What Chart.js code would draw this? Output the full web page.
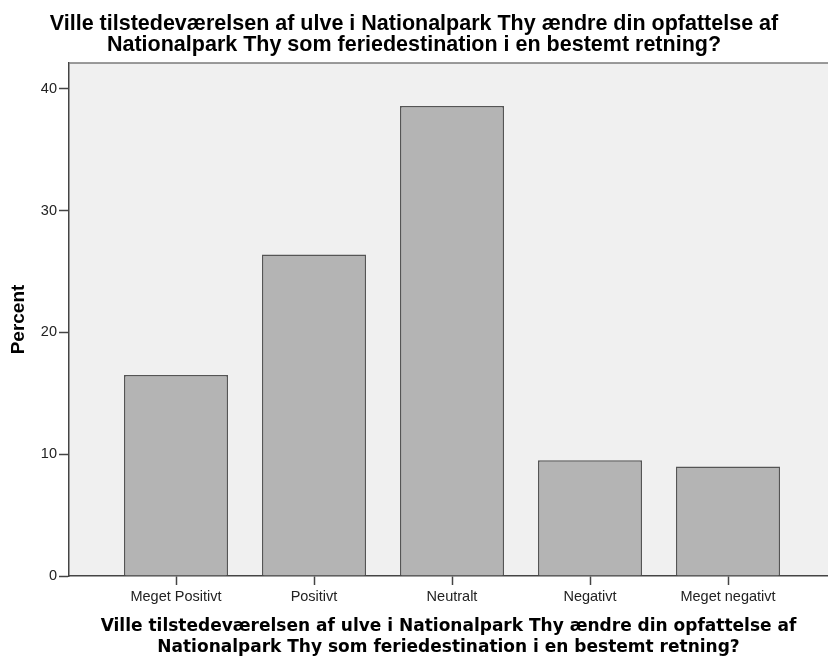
<!DOCTYPE html>
<html>
<head>
<meta charset="utf-8">
<script src="https://cdn.jsdelivr.net/npm/chart.js@4/dist/chart.umd.min.js"></script>
<style>
  html, body { margin: 0; padding: 0; background: #ffffff; }
  #wrap { width: 828px; height: 657px; }
</style>
</head>
<body>
<div id="wrap"><canvas id="c" width="828" height="657"></canvas></div>
<script>
// ---- Data ----
const categories = ['Meget Positivt', 'Positivt', 'Neutralt', 'Negativt', 'Meget negativt'];
const percentValues = [16.5, 26.4, 38.6, 9.5, 9.0];
const yTickValues = [0, 10, 20, 30, 40];
const chartTitle = [
  'Ville tilstedeværelsen af ulve i Nationalpark Thy ændre din opfattelse af',
  'Nationalpark Thy som feriedestination i en bestemt retning?'
];
const xAxisTitle = chartTitle;
const yAxisTitle = 'Percent';

// ---- Plugins ----
const plotBackground = {
  id: 'plotBackground',
  beforeDraw(chart) {
    const { ctx, chartArea: a } = chart;
    ctx.save();
    ctx.fillStyle = '#f0f0f0';
    ctx.fillRect(a.left, a.top, a.right - a.left, a.bottom - a.top);
    ctx.restore();
  },
  afterDraw(chart) {
    const { ctx, chartArea: a } = chart;
    ctx.save();
    ctx.strokeStyle = '#7a7a7a';
    ctx.lineWidth = 1.5;
    ctx.beginPath();
    ctx.moveTo(a.left, a.top);
    ctx.lineTo(a.right, a.top);
    ctx.stroke();
    ctx.restore();
  }
};

const sansFamily = "'Liberation Sans', Arial, sans-serif";
const dejaFamily = "'DejaVu Sans', Verdana, sans-serif";

new Chart(document.getElementById('c'), {
  type: 'bar',
  data: {
    datasets: [{
      data: categories.map((c, i) => ({ x: i, y: percentValues[i] })),
      backgroundColor: '#b4b4b4',
      borderColor: '#555555',
      borderWidth: 1.5,
      categoryPercentage: 1.0,
      barPercentage: 0.7536
    }]
  },
  plugins: [plotBackground],
  options: {
    responsive: false,
    animation: false,
    devicePixelRatio: 1,
    layout: { padding: 0 },
    plugins: {
      legend: { display: false },
      tooltip: { enabled: false },
      title: {
        display: true,
        text: chartTitle,
        color: '#000000',
        font: { family: sansFamily, size: 21.5, weight: 'bold', lineHeight: 21 / 21.5 },
        padding: { top: 13.5, bottom: 7.5 }
      }
    },
    scales: {
      x: {
        type: 'linear',
        offset: false,
        min: -0.7754,
        max: 4.7246,
        afterBuildTicks(scale) {
          scale.ticks = categories.map((c, i) => ({ value: i }));
        },
        afterFit(scale) { scale.height = 81; },
        ticks: {
          autoSkip: false,
          maxRotation: 0,
          color: '#222222',
          padding: 3.3,
          font: { family: sansFamily, size: 14.5 },
          callback: (v) => categories[v]
        },
        grid: {
          display: true,
          offset: false,
          drawOnChartArea: false,
          drawTicks: true,
          tickLength: 9,
          tickColor: '#444444',
          tickWidth: 1.5
        },
        border: { display: true, color: '#444444', width: 1.5 },
        title: {
          display: true,
          text: xAxisTitle,
          color: '#000000',
          font: { family: dejaFamily, size: 17, weight: 'bold', lineHeight: 21 / 17 },
          padding: { top: 0, bottom: -1.5 }
        }
      },
      y: {
        min: 0,
        max: 42.13,
        afterBuildTicks(scale) {
          scale.ticks = yTickValues.map(v => ({ value: v }));
        },
        afterFit(scale) { scale.width = 69; },
        ticks: {
          color: '#222222',
          padding: 2,
          font: { family: sansFamily, size: 14.5 }
        },
        grid: {
          display: true,
          drawOnChartArea: false,
          drawTicks: true,
          tickLength: 10,
          tickColor: '#444444',
          tickWidth: 1.5
        },
        border: { display: true, color: '#444444', width: 1.5 },
        title: {
          display: true,
          text: yAxisTitle,
          color: '#000000',
          font: { family: sansFamily, size: 19, weight: 'bold', lineHeight: 1.2 },
          padding: { top: 7, bottom: 0 }
        }
      }
    }
  }
});
</script>
</body>
</html>
